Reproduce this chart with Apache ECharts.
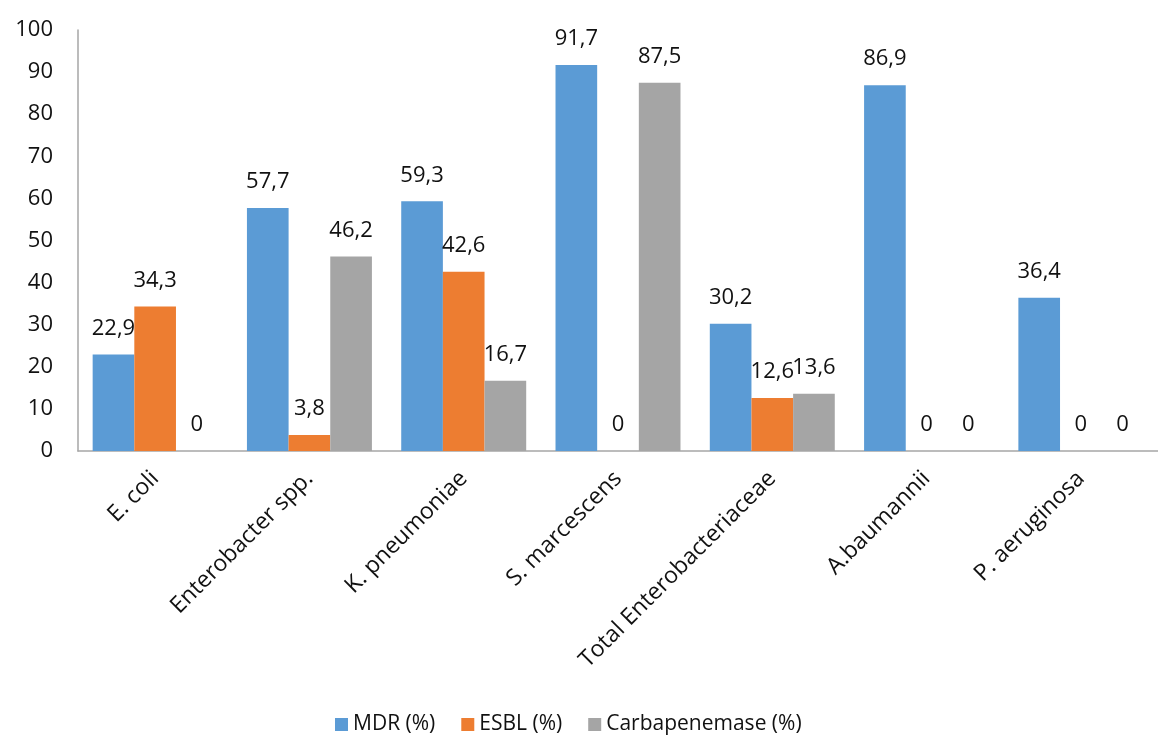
<!DOCTYPE html>
<html>
<head>
<meta charset="utf-8">
<script src="https://cdn.jsdelivr.net/npm/echarts@6/dist/echarts.min.js"></script>
<style>html,body{margin:0;padding:0;background:#fff}#c{width:1158px;height:740px}</style>
</head>
<body>
<div id="c"></div>
<script>
const categories = ["E. coli", "Enterobacter spp.", "K. pneumoniae", "S. marcescens", "Total Enterobacteriaceae", "A.baumannii", "P. aeruginosa"];
const seriesNames = ["MDR (%)", "ESBL (%)", "Carbapenemase (%)"];
const mdr = [22.9, 57.7, 59.3, 91.7, 30.2, 86.9, 36.4];
const esbl = [34.3, 3.8, 42.6, 0, 12.6, 0, 0];
const carba = [0, 46.2, 16.7, 87.5, 13.6, 0, 0];
const yTicks = [0, 10, 20, 30, 40, 50, 60, 70, 80, 90, 100];

const colors = ["#5B9BD5", "#ED7D31", "#A5A5A5"];
const font = "'Open Sans', sans-serif";
const txt = "#111111";

function mk(name, data, color) {
  return {
    name: name, type: 'bar', data: data, barGap: '0%', barCategoryGap: '19%',
    itemStyle: { color: color },
    label: {
      show: true, position: 'top', distance: 15,
      fontFamily: font, fontSize: 22, color: txt,
      formatter: p => String(p.value).replace('.', ',')
    }
  };
}

const chart = echarts.init(document.getElementById('c'));
chart.setOption({
  animation: false,
  color: colors,
  grid: { left: 78, top: 30, bottom: 289, width: 1092, containLabel: false },
  legend: {
    bottom: 0, left: 330, itemWidth: 13, itemHeight: 13, itemGap: 26,
    icon: 'rect',
    textStyle: { fontFamily: font, fontSize: 21, color: txt },
    data: seriesNames
  },
  xAxis: {
    type: 'category', data: categories,
    axisLine: { lineStyle: { color: '#A6A6A6', width: 1.5 } },
    axisTick: { show: false },
    axisLabel: { rotate: 45, interval: 0, margin: 24, fontFamily: font, fontSize: 23, color: txt }
  },
  yAxis: {
    type: 'value', min: yTicks[0], max: yTicks[yTicks.length - 1], interval: 10,
    splitLine: { show: false },
    axisLine: { show: true, lineStyle: { color: '#A6A6A6', width: 1.5 } },
    axisTick: { show: false },
    axisLabel: { margin: 25, fontFamily: font, fontSize: 22, color: txt }
  },
  series: [mk(seriesNames[0], mdr, colors[0]), mk(seriesNames[1], esbl, colors[1]), mk(seriesNames[2], carba, colors[2])]
});
</script>
</body>
</html>
